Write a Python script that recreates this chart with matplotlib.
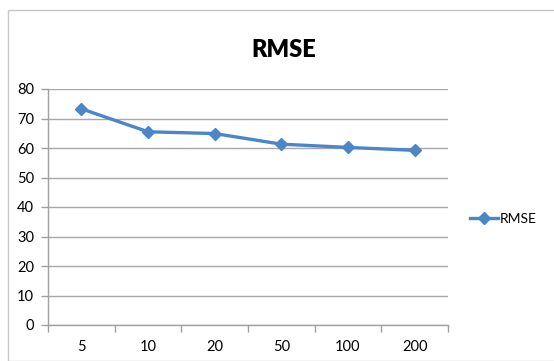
import matplotlib
matplotlib.use("Agg")
import matplotlib.pyplot as plt
from matplotlib.patches import Rectangle
import numpy as np

categories = ["5", "10", "20", "50", "100", "200"]
rmse = [73.3, 65.5, 64.9, 61.3, 60.2, 59.2]
yticks = [0, 10, 20, 30, 40, 50, 60, 70, 80]
series_name = "RMSE"

plt.rcParams['font.family'] = ['Lato', 'DejaVu Sans']

fig = plt.figure(figsize=(5.54, 3.61), dpi=100)
fig.patches.append(Rectangle((8/554, 0), 1.0, 1 - 10/361, transform=fig.transFigure,
                             fill=False, edgecolor='#c8c8c8', linewidth=1.0))
ax = fig.add_axes([48/554, 1 - 325/361, 400/554, (325 - 89)/361])

x = np.arange(len(categories))
line, = ax.plot(x, rmse, color='#4a86c8', linewidth=2.4, marker='D', markersize=6.5,
                label=series_name, zorder=3)

ax.set_xlim(-0.5, len(categories) - 0.5)
ax.set_ylim(0, 80)
ax.set_yticks(yticks)
ax.set_yticklabels([str(v) for v in yticks], fontsize=10.5)
ax.set_xticks(x)
ax.set_xticklabels(categories, fontsize=10.5)
ax.set_xticks(np.arange(len(categories) + 1) - 0.5, minor=True)
ax.tick_params(axis='x', which='major', length=0, pad=11)
ax.tick_params(axis='x', which='minor', length=5, color='#a0a0a0', width=1)
ax.tick_params(axis='y', length=5, color='#a0a0a0', width=1, pad=5)
ax.yaxis.grid(True, color='#a8a8a8', linewidth=1)
ax.set_axisbelow(True)
for s in ['top', 'right']:
    ax.spines[s].set_visible(False)
for s in ['left', 'bottom']:
    ax.spines[s].set_color('#a0a0a0')
    ax.spines[s].set_linewidth(1)

fig.text(284/554, 1 - 50/361, "RMSE", ha='center', va='center', fontsize=17, fontweight='heavy')

fig.legend(handles=[line], loc='center left', bbox_to_anchor=(470/554, 1 - 219/361),
           frameon=False, fontsize=10, handlelength=2.0, handletextpad=0.15,
           borderaxespad=0, borderpad=0)

fig.savefig("out.png", dpi=100)
